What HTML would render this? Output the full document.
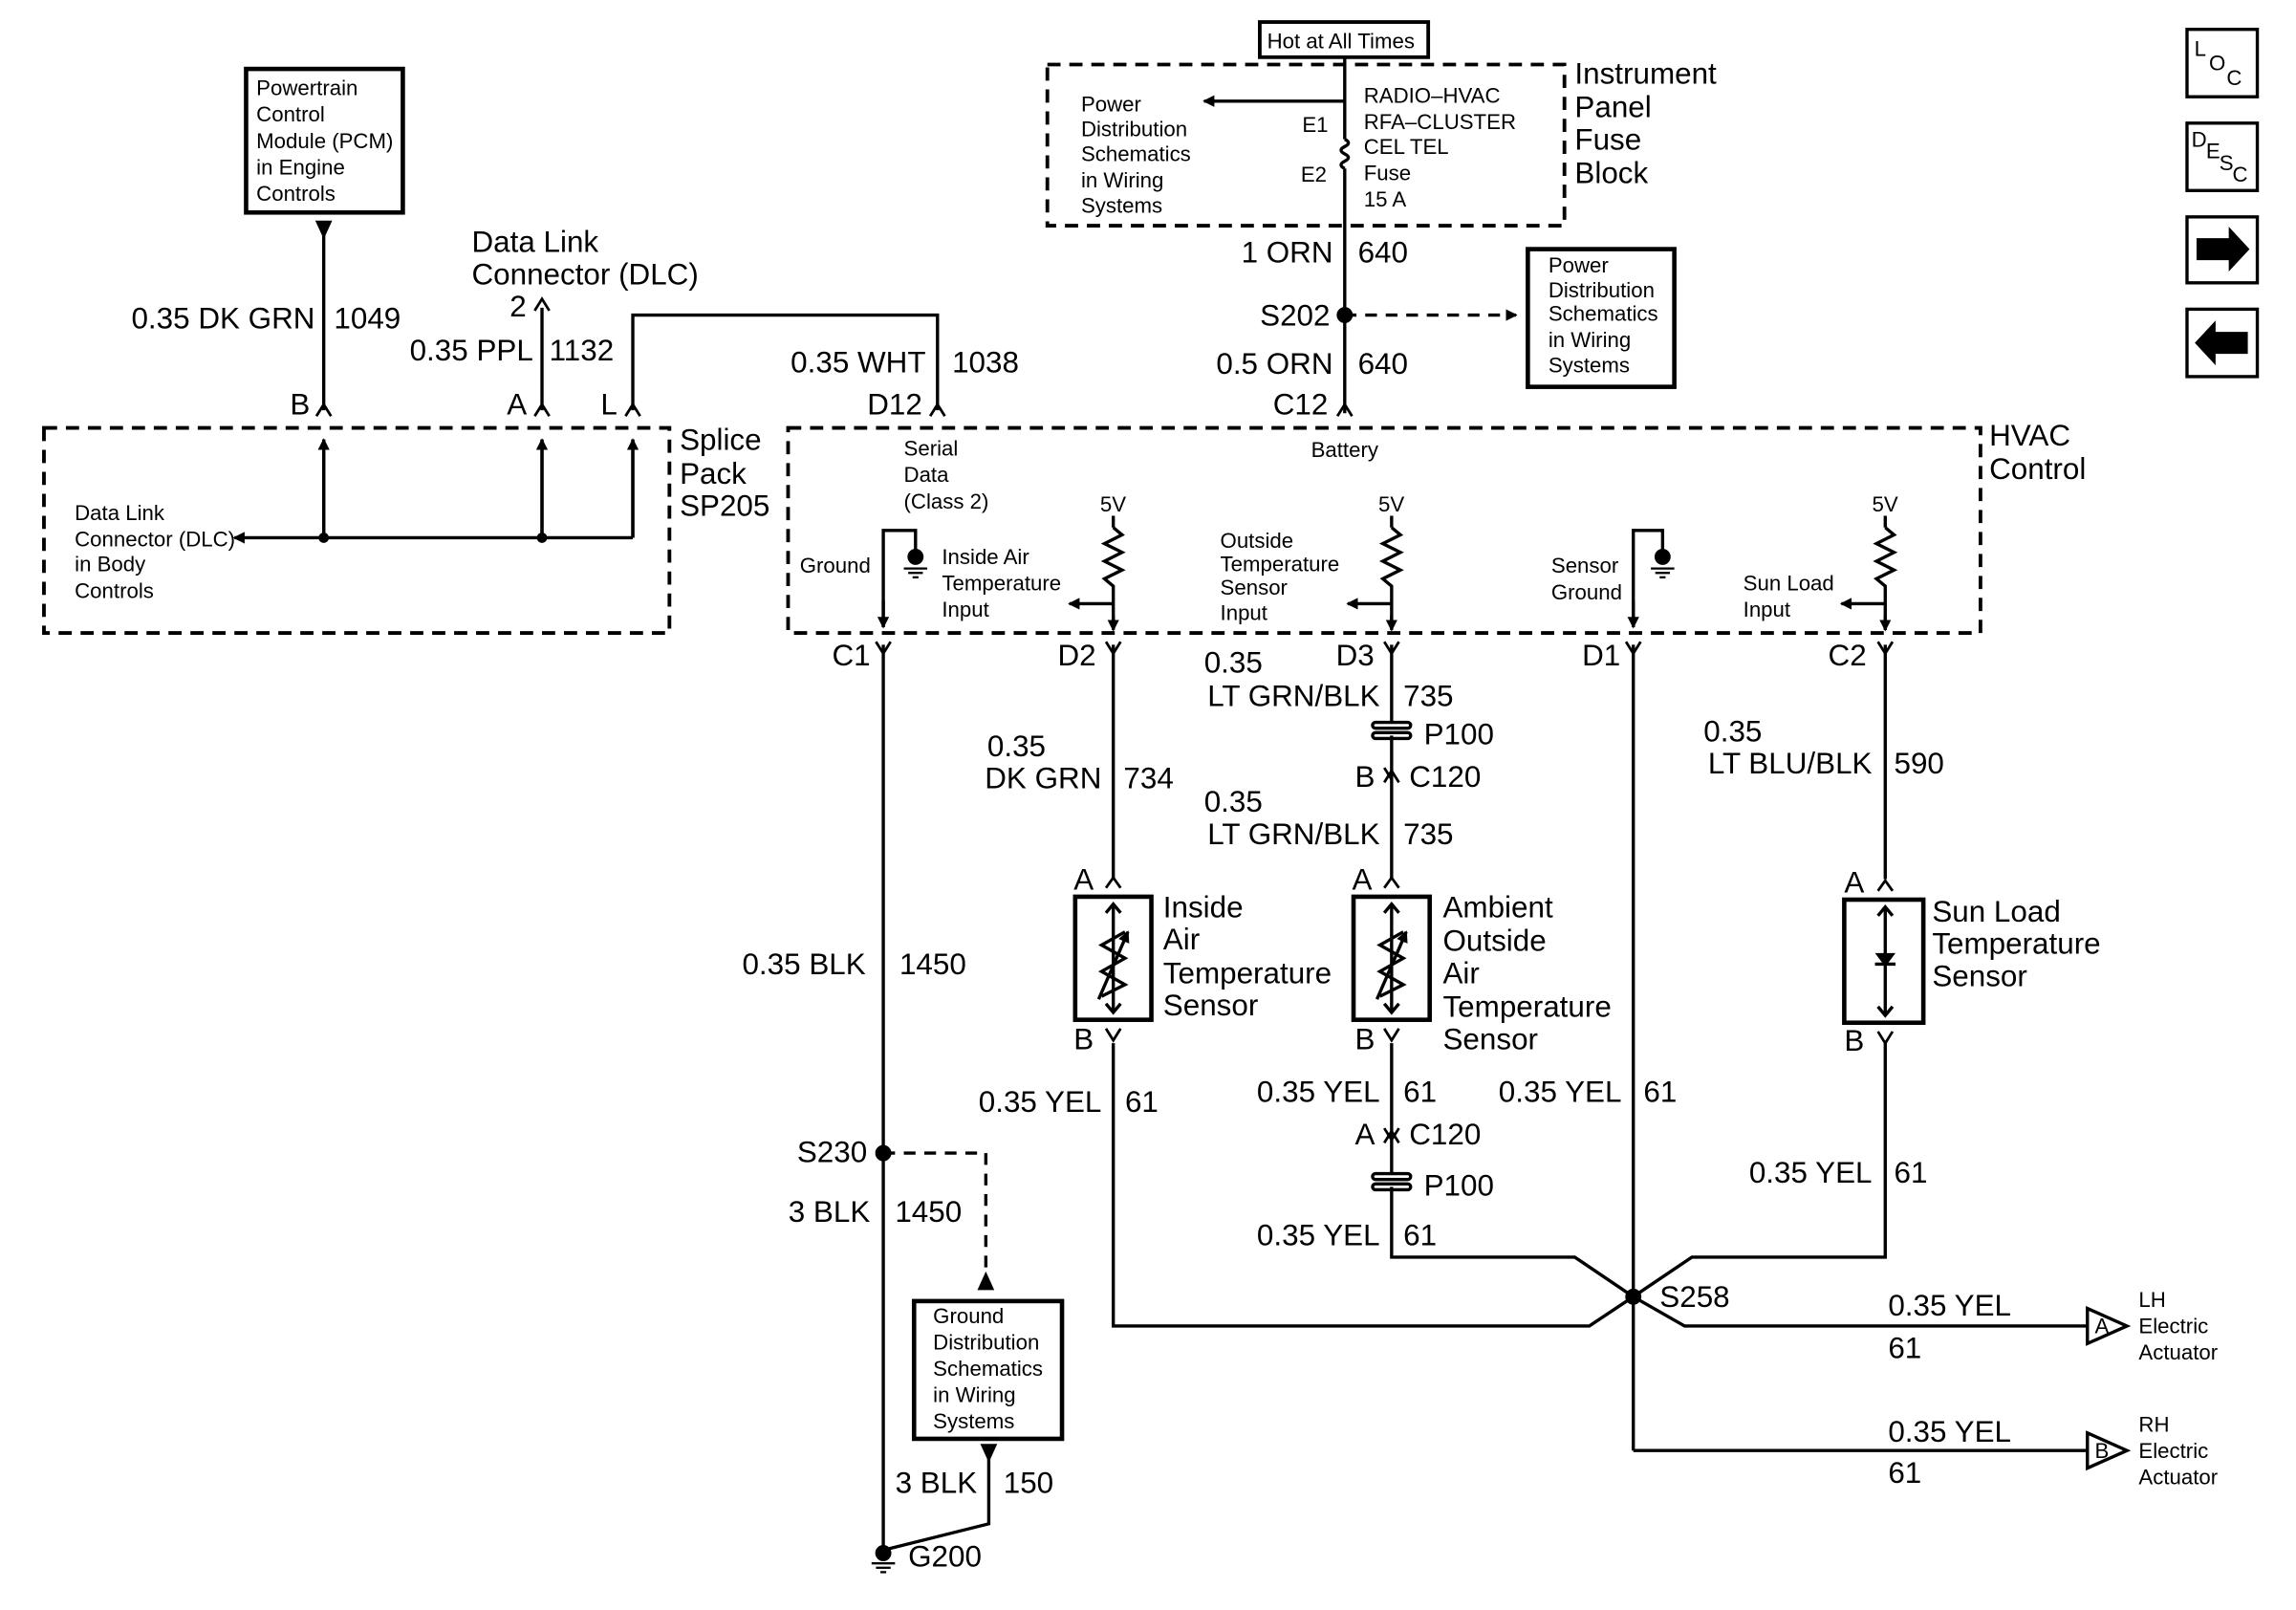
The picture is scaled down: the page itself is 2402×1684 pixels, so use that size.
<!DOCTYPE html>
<html><head><meta charset="utf-8"><style>
html,body{margin:0;padding:0;background:#fff;}
svg{display:block}
text{font-family:"Liberation Sans",Arial,sans-serif;fill:#000}
.b{font-size:20.5px}
.s{font-size:14.5px}
</style></head><body>
<svg width="2402" height="1684" viewBox="0 0 1567.4 1098.8" xmlns="http://www.w3.org/2000/svg">
<defs>
<marker id="ar" markerWidth="8" markerHeight="8" refX="7" refY="4" orient="auto" markerUnits="userSpaceOnUse"><path d="M0,0 L8,4 L0,8 z" fill="#000"/></marker>
</defs>
<g fill="none" stroke="#000" stroke-width="2.2">
<rect x="168" y="47" width="107" height="98" stroke-width="3"/>
<line x1="221" y1="152" x2="221" y2="280"/>
<line x1="370" y1="210" x2="370" y2="280"/>
<polyline points="432,280 432,215 640,215 640,280"/>
<rect x="30" y="292" width="427" height="140" stroke-dasharray="9,6" stroke-width="2.5"/>
<line x1="221" y1="300" x2="221" y2="367"/><line x1="370" y1="300" x2="370" y2="367"/><line x1="432" y1="300" x2="432" y2="367"/>
<line x1="432" y1="367" x2="160" y2="367" marker-end="url(#ar)"/>
<line x1="221" y1="367" x2="221" y2="300" marker-end="url(#ar)"/>
<line x1="370" y1="367" x2="370" y2="300" marker-end="url(#ar)"/>
<line x1="432" y1="367" x2="432" y2="300" marker-end="url(#ar)"/>
<rect x="860" y="15" width="115" height="24" stroke-width="2.5"/>
<rect x="715" y="44" width="353" height="110" stroke-dasharray="9,6" stroke-width="2.5"/>
<line x1="918" y1="39" x2="918" y2="95"/>
<line x1="918" y1="69" x2="822" y2="69" marker-end="url(#ar)"/>
<path d="M918,95 q5,2.5 0,5 q-5,2.5 0,5 q5,2.5 0,5 q-5,2.5 0,5"/>
<line x1="918" y1="115" x2="918" y2="282"/>
<line x1="918" y1="215" x2="1035" y2="215" stroke-dasharray="8,6" marker-end="url(#ar)"/>
<rect x="1043" y="170" width="100" height="94" stroke-width="3"/>
<rect x="538" y="292" width="814" height="140" stroke-dasharray="9,6" stroke-width="2.5"/>
<polyline points="625,375 625,362 603,362 603,428"/>
<line x1="603" y1="410" x2="603" y2="428" marker-end="url(#ar)"/>
<polyline points="1135,375 1135,362 1115,362 1115,428"/>
<line x1="1115" y1="410" x2="1115" y2="428" marker-end="url(#ar)"/>
<g id="r1">
<line x1="760" y1="352" x2="760" y2="360"/>
<polyline points="760,360 766,365 754,371 766,377 754,383 766,389 754,395 760,400 760,428"/>
<line x1="760" y1="412" x2="730" y2="412" marker-end="url(#ar)"/>
<line x1="760" y1="420" x2="760" y2="430" marker-end="url(#ar)"/>
</g>
<use href="#r1" x="190"/>
<use href="#r1" x="527"/>
<line x1="603" y1="440" x2="603" y2="1060"/>
<polyline points="760,440 760,600"/>
<polyline points="760,712 760,905 1085,905 1115,885"/>
<polyline points="950,440 950,492"/>
<polyline points="950,502 950,600"/>
<polyline points="950,712 950,800"/>
<polyline points="950,810 950,858 1075,858 1115,885"/>
<line x1="1115" y1="440" x2="1115" y2="990"/>
<polyline points="1115,990 1425,990"/>
<polyline points="1115,885 1150,905 1425,905"/>
<line x1="1287" y1="440" x2="1287" y2="600"/>
<polyline points="1287,712 1287,858 1155,858 1115,885"/>
<rect x="937" y="493" width="26" height="4" rx="2"/><rect x="937" y="500" width="26" height="4" rx="2"/>
<rect x="937" y="801" width="26" height="4" rx="2"/><rect x="937" y="808" width="26" height="4" rx="2"/>
<rect x="734" y="612" width="52" height="84" stroke-width="3"/>
<rect x="924" y="612" width="52" height="84" stroke-width="3"/>
<rect x="1259" y="614" width="54" height="84" stroke-width="3"/>
<line x1="760" y1="617" x2="760" y2="691"/>
<polyline points="755,623 760,617 765,623"/><polyline points="755,685 760,691 765,685"/>
<polyline points="768,636 752,645 768,654 752,663 768,672 752,680"/>
<line x1="750" y1="682" x2="770" y2="636" marker-end="url(#ar)"/>
<line x1="950" y1="617" x2="950" y2="691"/>
<polyline points="945,623 950,617 955,623"/><polyline points="945,685 950,691 955,685"/>
<polyline points="958,636 942,645 958,654 942,663 958,672 942,680"/>
<line x1="940" y1="682" x2="960" y2="636" marker-end="url(#ar)"/>
<line x1="1287" y1="619" x2="1287" y2="693"/>
<polyline points="1282,625 1287,619 1292,625"/><polyline points="1282,687 1287,693 1292,687"/>
<line x1="1280" y1="658" x2="1294" y2="658"/>
<path d="M1425,893 L1452,905 L1425,917 z"/>
<path d="M1425,978 L1452,990 L1425,1002 z"/>
<polyline points="603,787 673,787 673,872" stroke-dasharray="8,6"/>
<rect x="624" y="888" width="101" height="94" stroke-width="3"/>
<polyline points="675,995 675,1040 603,1058"/>
<rect x="1493" y="20" width="48" height="46"/>
<rect x="1493" y="84" width="48" height="46"/>
<rect x="1493" y="148" width="48" height="45"/>
<rect x="1493" y="211" width="48" height="46"/>
</g>
<g fill="none" stroke="#000" stroke-width="1.8">
<path d="M216,284 L221,276 L226,284"/><path d="M365,284 L370,276 L375,284"/><path d="M427,284 L432,276 L437,284"/>
<path d="M635,284 L640,276 L645,284"/><path d="M913,284 L918,276 L923,284"/>
<path d="M365,212 L370,204 L375,212"/>
<path d="M598,438 L603,446 L608,438"/><path d="M755,438 L760,446 L765,438"/><path d="M945,438 L950,446 L955,438"/>
<path d="M1110,438 L1115,446 L1120,438"/><path d="M1282,438 L1287,446 L1292,438"/>
<path d="M755,606 L760,599 L765,606"/><path d="M945,606 L950,599 L955,606"/><path d="M1282,608 L1287,601 L1292,608"/>
<path d="M755,702 L760,710 L765,702"/><path d="M945,702 L950,710 L955,702"/><path d="M1282,704 L1287,712 L1292,704"/>
<path d="M945,534 L950,526 L955,534"/><path d="M945,524 L950,532"/>
<path d="M945,770 L950,778 L955,770"/><path d="M945,780 L950,772 L955,780"/>
</g>
<g fill="#000" stroke="#000">
<path d="M216,151 L226,151 L221,162 z"/>
<circle cx="221" cy="367" r="3"/><circle cx="370" cy="367" r="3"/>
<circle cx="918" cy="215" r="5"/>
<circle cx="1115" cy="885" r="5"/>
<circle cx="603" cy="787" r="5"/>
<path d="M668,880 L678,880 L673,869 z"/>
<path d="M670,986 L680,986 L675,997 z"/>
<circle cx="603" cy="1060" r="5"/>
<circle cx="625" cy="380" r="5"/><circle cx="1135" cy="380" r="5"/>
<path d="M1281,651 L1293,651 L1287,659 z" />
<path d="M1500,163 L1522,163 L1522,156 L1535,170 L1522,184 L1522,177 L1500,177 z"/>
<path d="M1534,227 L1512,227 L1512,220 L1499,234 L1512,248 L1512,241 L1534,241 z"/>
</g>
<g stroke="#000" stroke-width="1.5">
<line x1="617" y1="388" x2="633" y2="388"/><line x1="620" y1="391" x2="630" y2="391"/><line x1="623" y1="394" x2="627" y2="394"/>
<line x1="1127" y1="388" x2="1143" y2="388"/><line x1="1130" y1="391" x2="1140" y2="391"/><line x1="1133" y1="394" x2="1137" y2="394"/>
<line x1="595" y1="1067" x2="611" y2="1067"/><line x1="598" y1="1070" x2="608" y2="1070"/><line x1="601" y1="1073" x2="605" y2="1073"/>
</g>
<g class="s">
<text x="175" y="65">Powertrain</text><text x="175" y="83">Control</text><text x="175" y="101">Module (PCM)</text><text x="175" y="119">in Engine</text><text x="175" y="137">Controls</text>
<text x="51" y="355">Data Link</text><text x="51" y="373">Connector (DLC)</text><text x="51" y="390">in Body</text><text x="51" y="408">Controls</text>
<text x="865" y="33">Hot at All Times</text>
<text x="738" y="76">Power</text><text x="738" y="93">Distribution</text><text x="738" y="110">Schematics</text><text x="738" y="128">in Wiring</text><text x="738" y="145">Systems</text>
<text x="889" y="90">E1</text><text x="888" y="124">E2</text>
<text x="931" y="70">RADIO–HVAC</text><text x="931" y="88">RFA–CLUSTER</text><text x="931" y="105">CEL TEL</text><text x="931" y="123">Fuse</text><text x="931" y="141">15 A</text>
<text x="1057" y="186">Power</text><text x="1057" y="203">Distribution</text><text x="1057" y="219">Schematics</text><text x="1057" y="237">in Wiring</text><text x="1057" y="254">Systems</text>
<text x="617" y="311">Serial</text><text x="617" y="329">Data</text><text x="617" y="347">(Class 2)</text>
<text x="895" y="312">Battery</text>
<text x="546" y="391">Ground</text>
<text x="643" y="385">Inside Air</text><text x="643" y="403">Temperature</text><text x="643" y="421">Input</text>
<text x="751" y="349">5V</text><text x="941" y="349">5V</text><text x="1278" y="349">5V</text>
<text x="833" y="374">Outside</text><text x="833" y="390">Temperature</text><text x="833" y="406">Sensor</text><text x="833" y="423">Input</text>
<text x="1059" y="391">Sensor</text><text x="1059" y="409">Ground</text>
<text x="1190" y="403">Sun Load</text><text x="1190" y="421">Input</text>
<text x="637" y="903">Ground</text><text x="637" y="921">Distribution</text><text x="637" y="939">Schematics</text><text x="637" y="957">in Wiring</text><text x="637" y="975">Systems</text>
<text x="1460" y="892">LH</text><text x="1460" y="910">Electric</text><text x="1460" y="928">Actuator</text>
<text x="1460" y="977">RH</text><text x="1460" y="995">Electric</text><text x="1460" y="1013">Actuator</text>
<text x="1430" y="910">A</text><text x="1430" y="995">B</text>
<text x="1498" y="38">L</text><text x="1508" y="48">O</text><text x="1520" y="58">C</text>
<text x="1496" y="100">D</text><text x="1506" y="108">E</text><text x="1515" y="116">S</text><text x="1524" y="124">C</text>
</g>
<g class="b">
<text x="322" y="172">Data Link</text><text x="322" y="194">Connector (DLC)</text>
<text x="348" y="216">2</text>
<text x="215" y="224" text-anchor="end">0.35 DK GRN</text><text x="228" y="224">1049</text>
<text x="364" y="246" text-anchor="end">0.35 PPL</text><text x="375" y="246">1132</text>
<text x="632" y="254" text-anchor="end">0.35 WHT</text><text x="650" y="254">1038</text>
<text x="198" y="283">B</text><text x="346" y="283">A</text><text x="410" y="283">L</text>
<text x="592" y="283">D12</text><text x="869" y="283">C12</text>
<text x="464" y="307">Splice</text><text x="464" y="330">Pack</text><text x="464" y="352">SP205</text>
<text x="1075" y="57">Instrument</text><text x="1075" y="80">Panel</text><text x="1075" y="102">Fuse</text><text x="1075" y="125">Block</text>
<text x="910" y="179" text-anchor="end">1 ORN</text><text x="927" y="179">640</text>
<text x="908" y="222" text-anchor="end">S202</text>
<text x="910" y="255" text-anchor="end">0.5 ORN</text><text x="927" y="255">640</text>
<text x="1358" y="304">HVAC</text><text x="1358" y="327">Control</text>
<text x="568" y="454">C1</text><text x="722" y="454">D2</text><text x="912" y="454">D3</text><text x="1080" y="454">D1</text><text x="1248" y="454">C2</text>
<text x="822" y="459">0.35</text><text x="942" y="482" text-anchor="end">LT GRN/BLK</text><text x="958" y="482">735</text>
<text x="972" y="508">P100</text><text x="925" y="537">B</text><text x="962" y="537">C120</text>
<text x="822" y="554">0.35</text><text x="942" y="576" text-anchor="end">LT GRN/BLK</text><text x="958" y="576">735</text>
<text x="674" y="516">0.35</text><text x="752" y="538" text-anchor="end">DK GRN</text><text x="767" y="538">734</text>
<text x="1163" y="506">0.35</text><text x="1278" y="528" text-anchor="end">LT BLU/BLK</text><text x="1293" y="528">590</text>
<text x="733" y="607">A</text><text x="923" y="607">A</text><text x="1259" y="609">A</text>
<text x="794" y="626">Inside</text><text x="794" y="648">Air</text><text x="794" y="671">Temperature</text><text x="794" y="693">Sensor</text>
<text x="985" y="626">Ambient</text><text x="985" y="649">Outside</text><text x="985" y="671">Air</text><text x="985" y="694">Temperature</text><text x="985" y="716">Sensor</text>
<text x="1319" y="629">Sun Load</text><text x="1319" y="651">Temperature</text><text x="1319" y="673">Sensor</text>
<text x="591" y="665" text-anchor="end">0.35 BLK</text><text x="614" y="665">1450</text>
<text x="733" y="716">B</text><text x="925" y="716">B</text><text x="1259" y="717">B</text>
<text x="752" y="759" text-anchor="end">0.35 YEL</text><text x="768" y="759">61</text>
<text x="942" y="752" text-anchor="end">0.35 YEL</text><text x="958" y="752">61</text>
<text x="1107" y="752" text-anchor="end">0.35 YEL</text><text x="1122" y="752">61</text>
<text x="925" y="781">A</text><text x="962" y="781">C120</text><text x="972" y="816">P100</text>
<text x="942" y="850" text-anchor="end">0.35 YEL</text><text x="958" y="850">61</text>
<text x="1278" y="807" text-anchor="end">0.35 YEL</text><text x="1293" y="807">61</text>
<text x="592" y="793" text-anchor="end">S230</text>
<text x="594" y="834" text-anchor="end">3 BLK</text><text x="611" y="834">1450</text>
<text x="1133" y="892">S258</text>
<text x="1289" y="898">0.35 YEL</text><text x="1289" y="927">61</text>
<text x="1289" y="984">0.35 YEL</text><text x="1289" y="1012">61</text>
<text x="667" y="1019" text-anchor="end">3 BLK</text><text x="685" y="1019">150</text>
<text x="620" y="1069">G200</text>
</g>
</svg>
</body></html>
